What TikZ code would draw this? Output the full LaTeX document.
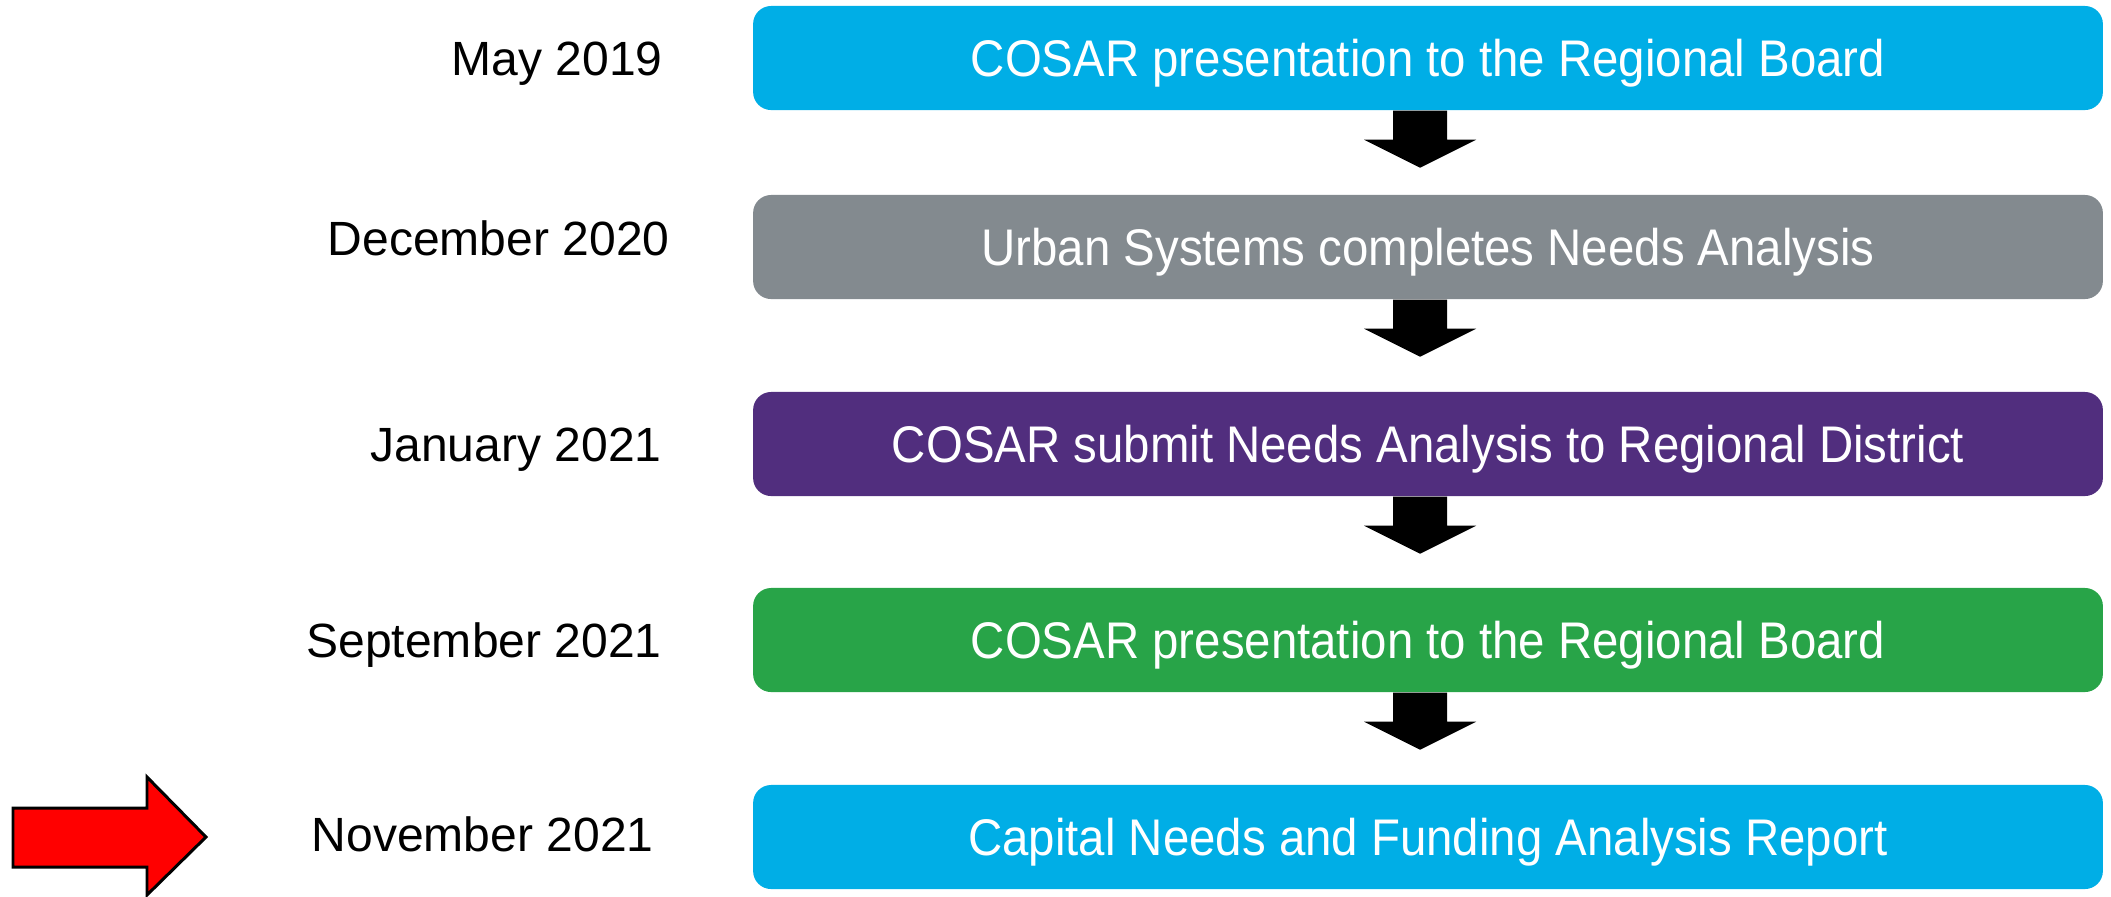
\documentclass[tikz,border=0pt]{standalone}
\usepackage{fontspec}
\setmainfont{Liberation Sans}
\newfontfamily\boxfont[FakeStretch=0.92]{Liberation Sans}
\usepackage{tikz}
\usetikzlibrary{positioning}

\definecolor{stepblue}{RGB}{0,174,230}
\definecolor{stepgray}{RGB}{131,138,143}
\definecolor{steppurple}{RGB}{81,46,126}
\definecolor{stepgreen}{RGB}{40,164,72}
\definecolor{markred}{RGB}{255,0,0}

\tikzset{
  stepbox/.style={rounded corners=0.18cm, minimum width=13.49cm, minimum height=1.04cm,
    text=white, font=\boxfont\fontsize{14.65}{17}\selectfont, inner sep=0pt,
    text height=0.37cm, text depth=0pt},
  datelabel/.style={anchor=east, font=\fontsize{13.66}{16}\selectfont, inner sep=0pt,
    text height=0.345cm, text depth=0pt}
}

\begin{document}
\begin{tikzpicture}[x=0.01cm,y=-0.01cm]
\useasboundingbox (0,0) rectangle (2111,896);

% the steps
\node [stepbox, fill=stepblue]   (b1) at (1428,58)  {COSAR presentation to the Regional Board};
\node [stepbox, fill=stepgray]   (b2) at (1428,247) {Urban Systems completes Needs Analysis};
\node [stepbox, fill=steppurple] (b3) at (1428,444) {COSAR submit Needs Analysis to Regional District};
\node [stepbox, fill=stepgreen]  (b4) at (1428,640) {COSAR presentation to the Regional Board};
\node [stepbox, fill=stepblue]   (b5) at (1428,837) {Capital Needs and Funding Analysis Report};

% the dates
\node [datelabel, left=0.89cm of b1] (d1) {May 2019};
\node [datelabel, left=0.82cm of b2, yshift=0.09cm] (d2) {December 2020};
\node [datelabel, left=0.90cm of b3] (d3) {January 2021};
\node [datelabel, left=0.90cm of b4] (d4) {September 2021};
\node [datelabel, left=0.98cm of b5, yshift=0.03cm] (d5) {November 2021};

% block arrows between the steps
\foreach \a in {b1,b2,b3,b4}
  \fill [black, shift={(\a.south)}]
    (-35,0) -- (19,0) -- (19,29) -- (48,29) -- (-8,57) -- (-64,29) -- (-35,29) -- cycle;

% red marker
\draw [fill=markred, line width=0.85pt, line join=miter]
  (13,808) -- (147,808) -- (147,777) -- (206,837) -- (147,895) -- (147,867) -- (13,867) -- cycle;
\end{tikzpicture}
\end{document}
